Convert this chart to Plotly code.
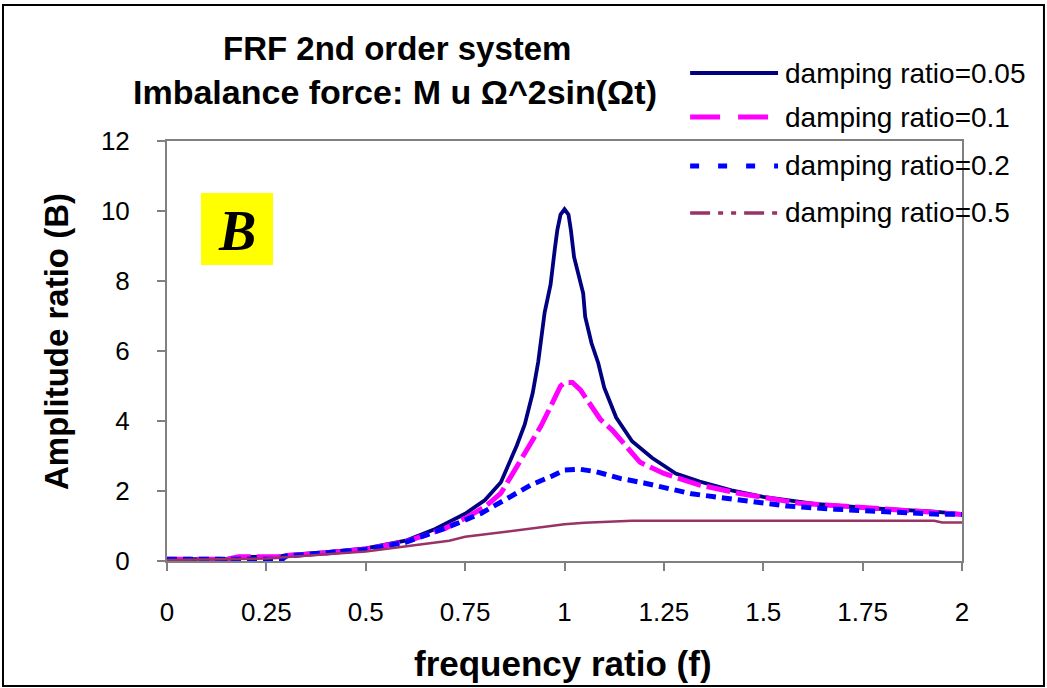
import plotly.graph_objects as go

# ---- data ----
f_005 = [0, 0.15, 0.18, 0.28, 0.30, 0.40, 0.50, 0.56, 0.60, 0.67, 0.71, 0.75, 0.80, 0.84,
         0.88, 0.90, 0.92, 0.934, 0.95, 0.965, 0.976, 0.982, 0.99, 1.0, 1.01, 1.016, 1.024,
         1.035, 1.047, 1.052, 1.068, 1.085, 1.10, 1.13, 1.17, 1.22, 1.28, 1.34, 1.42, 1.50,
         1.63, 1.78, 1.93, 2.0]
b_005 = [0.05, 0.05, 0.12, 0.12, 0.17, 0.25, 0.36, 0.50, 0.58, 0.89, 1.12, 1.35, 1.74, 2.25,
         3.30, 3.90, 4.80, 5.70, 7.10, 7.90, 8.95, 9.46, 9.90, 10.05, 9.90, 9.46, 8.69,
         8.22, 7.65, 6.98, 6.22, 5.65, 4.95, 4.10, 3.42, 2.95, 2.50, 2.27, 2.02, 1.83,
         1.63, 1.50, 1.41, 1.34]

f_01 = [0, 0.15, 0.18, 0.28, 0.30, 0.40, 0.50, 0.60, 0.70, 0.75, 0.80, 0.84, 0.865, 0.89,
        0.915, 0.94, 0.965, 0.99, 1.0, 1.02, 1.04, 1.065, 1.09, 1.12, 1.155, 1.19, 1.25,
        1.34, 1.44, 1.59, 1.84, 2.0]
b_01 = [0.05, 0.05, 0.12, 0.12, 0.16, 0.23, 0.34, 0.55, 0.93, 1.22, 1.55, 1.94, 2.41, 2.89,
        3.37, 3.84, 4.41, 5.00, 5.10, 5.10, 4.89, 4.50, 4.05, 3.74, 3.27, 2.82, 2.50,
        2.17, 1.93, 1.65, 1.46, 1.33]

f_02 = [0, 0.29, 0.30, 0.40, 0.50, 0.60, 0.71, 0.79, 0.84, 0.88, 0.915, 0.965, 1.0, 1.04,
        1.08, 1.14, 1.20, 1.32, 1.44, 1.56, 1.68, 1.80, 1.93, 2.0]
b_02 = [0.05, 0.05, 0.14, 0.23, 0.33, 0.53, 0.98, 1.36, 1.69, 1.93, 2.17, 2.41, 2.60, 2.62,
        2.55, 2.36, 2.23, 1.92, 1.76, 1.57, 1.48, 1.40, 1.34, 1.33]

f_05 = [0, 0.25, 0.50, 0.71, 0.75, 0.96, 1.0, 1.05, 1.17, 1.93, 1.95, 2.0]
b_05 = [0.03, 0.07, 0.27, 0.58, 0.69, 0.98, 1.05, 1.09, 1.15, 1.15, 1.10, 1.10]

names = ["damping ratio=0.05", "damping ratio=0.1", "damping ratio=0.2", "damping ratio=0.5"]
x_ticks = [0, 0.25, 0.5, 0.75, 1, 1.25, 1.5, 1.75, 2]
x_tick_text = ["0", "0.25", "0.5", "0.75", "1", "1.25", "1.5", "1.75", "2"]
y_ticks = [0, 2, 4, 6, 8, 10, 12]

colors = ["#000080", "#FF00FF", "#0000FF", "#993366"]
widths = [3.8, 5, 5, 2.5]
plot_dash = ["solid", "24px,6px", "10px,6px", "solid"]
legend_dash = ["solid", "30px,18px", "9px,19px", "20px,8px,5px,8px,5px,8px"]
legend_widths = [4, 5, 5, 3.5]

FONT = "Arial, Liberation Sans, sans-serif"

fig = go.Figure()
for fx, by, nm, c, w, d in zip([f_005, f_01, f_02, f_05], [b_005, b_01, b_02, b_05],
                               names, colors, widths, plot_dash):
    fig.add_trace(go.Scatter(x=fx, y=by, mode="lines", name=nm, showlegend=False,
                             line=dict(color=c, width=w, dash=d)))

shapes = []
annotations = []

# manual legend (long line samples as in the reference)
leg_y = [1.1619, 1.0571, 0.9405, 0.8286]
for yy, nm, c, d, lw in zip(leg_y, names, colors, legend_dash, legend_widths):
    shapes.append(dict(type="line", xref="paper", yref="paper", x0=0.658, x1=0.7686,
                       y0=yy, y1=yy, line=dict(color=c, width=lw, dash=d)))
    annotations.append(dict(xref="paper", yref="paper", x=0.7748, y=yy, xanchor="left",
                            yanchor="middle", text=nm, showarrow=False,
                            font=dict(family=FONT, size=28, color="black")))

# title (two lines)
annotations.append(dict(xref="paper", yref="paper", x=0.2888, y=1.2214, xanchor="center",
                        yanchor="middle", text="<b>FRF 2nd order system</b>", showarrow=False,
                        font=dict(family=FONT, size=33, color="black")))
annotations.append(dict(xref="paper", yref="paper", x=0.2868, y=1.1167, xanchor="center",
                        yanchor="middle", text="<b>Imbalance force: M u \u03a9^2sin(\u03a9t)</b>",
                        showarrow=False, font=dict(family=FONT, size=34, color="black")))

# axis titles
annotations.append(dict(xref="paper", yref="paper", x=0.4981, y=-0.2429, xanchor="center",
                        yanchor="middle", text="<b>frequency ratio (f)</b>", showarrow=False,
                        font=dict(family=FONT, size=35, color="black")))
annotations.append(dict(xref="paper", yref="paper", x=-0.1396, y=0.5214, xanchor="center",
                        yanchor="middle", text="<b>Amplitude ratio (B)</b>", showarrow=False,
                        textangle=-90, font=dict(family=FONT, size=33, color="black")))

# yellow "B" label box
shapes.append(dict(type="rect", xref="x", yref="y", x0=0.0855, x1=0.2667, y0=8.457, y1=10.514,
                   fillcolor="#FFFF00", line=dict(width=0), layer="below"))
annotations.append(dict(xref="x", yref="y", x=0.176, y=9.42, xanchor="center", yanchor="middle",
                        text="<b><i>B</i></b>", showarrow=False,
                        font=dict(family="Liberation Serif, Times New Roman, serif", size=56,
                                  color="black")))

# outer border of the whole picture
shapes.append(dict(type="rect", xref="paper", yref="paper", x0=-0.2063, x1=1.1031,
                   y0=-0.2976, y1=1.3238, line=dict(color="black", width=2),
                   fillcolor="rgba(0,0,0,0)"))

fig.update_layout(
    width=1047, height=688,
    margin=dict(l=167, r=85, t=141, b=127),
    paper_bgcolor="white", plot_bgcolor="white",
    showlegend=False,
    shapes=shapes, annotations=annotations,
    font=dict(family=FONT, color="black"),
)
fig.update_xaxes(range=[0, 2], tickvals=x_ticks, ticktext=x_tick_text,
                 showline=True, linecolor="#808080", linewidth=2, mirror=True,
                 ticks="outside", ticklen=8, tickwidth=2, tickcolor="#808080",
                 showgrid=False, zeroline=False, ticklabelstandoff=19,
                 tickfont=dict(family=FONT, size=26, color="black"))
fig.update_yaxes(range=[0, 12], tickvals=y_ticks,
                 showline=True, linecolor="#808080", linewidth=2, mirror=True,
                 ticks="outside", ticklen=8, tickwidth=2, tickcolor="#808080",
                 showgrid=False, zeroline=False, ticklabelstandoff=22,
                 tickfont=dict(family=FONT, size=26, color="black"))

fig.write_html("out.html")
